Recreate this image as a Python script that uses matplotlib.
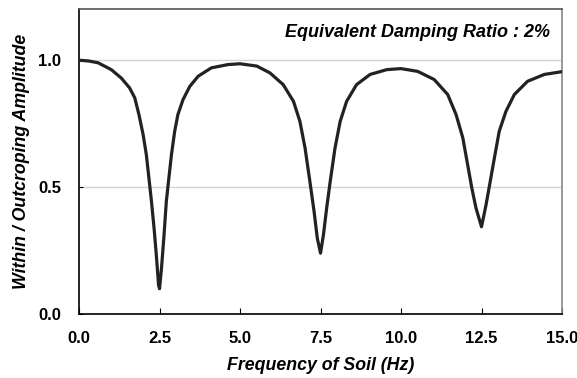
import matplotlib
matplotlib.use('Agg')
import matplotlib.pyplot as plt

# values
freq = [0.0, 0.3, 0.59, 1.0, 1.31, 1.57, 1.73, 1.86, 1.99, 2.09, 2.17, 2.25, 2.33, 2.40,
        2.47, 2.50, 2.56, 2.64, 2.71, 2.79, 2.87, 2.97, 3.07, 3.23, 3.44, 3.70, 4.11,
        4.63, 5.0, 5.52, 5.93, 6.34, 6.66, 6.86, 7.02, 7.17, 7.30, 7.40, 7.50, 7.59,
        7.69, 7.80, 7.95, 8.11, 8.31, 8.62, 9.04, 9.56, 10.0, 10.52, 11.03, 11.45,
        11.71, 11.92, 12.07, 12.20, 12.33, 12.50, 12.64, 12.77, 12.90, 13.05, 13.26,
        13.52, 13.93, 14.45, 15.0]
amp = [1.0, 0.997, 0.99, 0.963, 0.93, 0.891, 0.852, 0.786, 0.707, 0.628, 0.536, 0.443,
       0.338, 0.233, 0.114, 0.10, 0.18, 0.312, 0.443, 0.536, 0.628, 0.72, 0.786, 0.845,
       0.897, 0.937, 0.97, 0.983, 0.986, 0.977, 0.95, 0.904, 0.838, 0.759, 0.654,
       0.522, 0.404, 0.299, 0.24, 0.312, 0.417, 0.522, 0.654, 0.759, 0.838, 0.904,
       0.944, 0.963, 0.967, 0.956, 0.924, 0.865, 0.786, 0.694, 0.588, 0.496, 0.417,
       0.344, 0.43, 0.522, 0.615, 0.72, 0.799, 0.865, 0.917, 0.944, 0.955]

xticks = [0, 2.5, 5, 7.5, 10, 12.5, 15]
yticks = [0, 0.5, 1.0]

plt.rcParams['font.family'] = ['Liberation Sans', 'DejaVu Sans']

fig = plt.figure(figsize=(5.77, 3.78), dpi=100)
ax = fig.add_axes([0.137, 0.169, 0.837, 0.806])

for y in [0.5, 1.0]:
    ax.axhline(y, color='#d4d4d4', lw=1.0, zorder=1)

ax.plot(freq, amp, color='#222222', lw=2.3, zorder=3,
        solid_joinstyle='round', solid_capstyle='round')

ax.set_xlim(0, 15)
ax.set_ylim(0, 1.2)
ax.set_xticks(xticks)
ax.set_xticklabels(['%.1f' % t for t in xticks], fontsize=12, fontweight='bold')
ax.set_yticks(yticks)
ax.set_yticklabels(['%.1f' % t for t in yticks], fontsize=12, fontweight='bold')
ax.tick_params(axis='x', direction='in', length=4, pad=12)
ax.tick_params(axis='y', direction='in', length=3, pad=13)

ax.spines['left'].set_color('black')
ax.spines['bottom'].set_color('black')
ax.spines['top'].set_color('#555555')
ax.spines['right'].set_color('#888888')
for s in ax.spines.values():
    s.set_linewidth(1.2)

ax.set_xlabel('Frequency of Soil (Hz)', fontsize=12.8, fontweight='bold', style='italic', labelpad=8)
ax.set_ylabel('Within / Outcroping Amplitude', fontsize=12.8, fontweight='bold', style='italic', labelpad=6)

ax.text(0.976, 0.924, 'Equivalent Damping Ratio : 2%', transform=ax.transAxes,
        ha='right', va='center', fontsize=13, fontweight='bold', style='italic')

fig.savefig('out.png', dpi=100)
